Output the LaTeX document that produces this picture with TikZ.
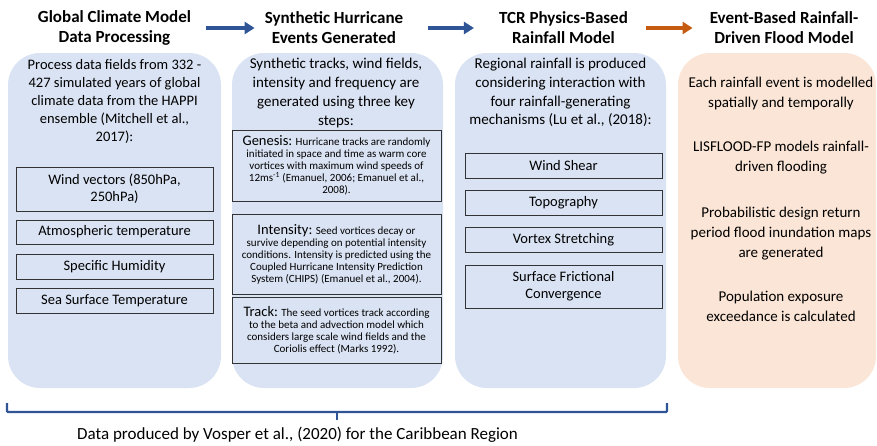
\documentclass[tikz,border=0pt]{standalone}
\usepackage{fontspec}
\setmainfont{Carlito}
\usepackage{xcolor}
\usetikzlibrary{arrows.meta}

\definecolor{panelblue}{HTML}{DAE3F3}
\definecolor{panelpeach}{HTML}{FBE5D6}
\definecolor{flowblue}{HTML}{2F5597}
\definecolor{floworange}{HTML}{C55A11}

\tikzset{
    panel/.style={rounded corners=32pt, inner sep=0pt, minimum height=335pt},
    heading/.style={font=\fontsize{17}{20}\selectfont\bfseries, align=center, inner sep=0pt},
    body/.style={font=\fontsize{15}{18.7}\selectfont, align=center, inner sep=0pt},
    varbox/.style={draw=black!80, line width=0.8pt, align=center, inner sep=0pt,
        minimum width=197pt, font=\fontsize{14.5}{17}\selectfont},
    stepbox/.style={draw=black!80, line width=0.8pt, align=center, inner sep=0pt,
        minimum width=209pt, font=\fontsize{11}{12}\selectfont},
    flow/.style={line width=3.5pt, -{Triangle[length=10pt,width=12pt]}},
}
\newcommand{\stepname}[1]{{\fontsize{14.5}{12}\selectfont #1}}

\begin{document}
\begin{tikzpicture}[x=1pt,y=-1pt]
    \useasboundingbox (0,0) rectangle (877,445);

    \node[heading] (gcm) at (114.5,28) {Global Climate Model\\Data Processing};
    \node[heading] (syn) at (334,28) {Synthetic Hurricane\\Events Generated};
    \node[heading] (tcr) at (563.5,28) {TCR Physics-Based\\Rainfall Model};
    \node[heading] (flood) at (784,28) {Event-Based Rainfall-\\Driven Flood Model};

    \draw[flow, flowblue, shorten <=15pt, shorten >=10pt] (gcm) -- (syn);
    \draw[flow, flowblue, shorten <=25pt, shorten >=25pt] (syn) -- (tcr);
    \draw[flow, floworange, shorten <=18pt, shorten >=17pt] (tcr) -- (flood);

    \node[panel, fill=panelblue, minimum width=213pt] (gcmpanel) at (114.5,220.5) {};
    \node[panel, fill=panelblue, minimum width=211pt] (synpanel) at (337.5,220.5) {};
    \node[panel, fill=panelblue, minimum width=211pt] (tcrpanel) at (560.5,220.5) {};
    \node[panel, fill=panelpeach, minimum width=198pt] (floodpanel) at (777,220.5) {};

    % climate model fields
    \node[body, font=\fontsize{14.5}{18}\selectfont] (gcmtext) at (114.5,101) {Process data fields from 332 -\\427 simulated years of global\\climate data from the HAPPI\\ensemble (Mitchell et al.,\\2017):};
    \node[varbox, minimum height=44pt] (wind) at (114.5,189) {Wind vectors (850hPa,\\250hPa)};
    \node[varbox, minimum height=24pt] (temp) at (114.5,232) {Atmospheric temperature};
    \node[varbox, minimum height=25pt] (hum) at (114.5,266.5) {Specific Humidity};
    \node[varbox, minimum height=25pt] (sst) at (114.5,300.5) {Sea Surface Temperature};

    % hurricane steps
    \node[body] (syntext) at (336,93) {Synthetic tracks, wind fields,\\intensity and frequency are\\generated using three key\\steps:};
    \node[stepbox, minimum height=71pt] (genesis) at (336.5,165.5) {\stepname{Genesis:} Hurricane tracks are randomly\\initiated in space and time as warm core\\vortices with maximum wind speeds of\\12ms\textsuperscript{-1} (Emanuel, 2006; Emanuel et al.,\\2008).};
    \node[stepbox, minimum height=80pt] (intensity) at (336.5,254) {\stepname{Intensity:} Seed vortices decay or\\survive depending on potential intensity\\conditions. Intensity is predicted using the\\Coupled Hurricane Intensity Prediction\\System (CHIPS) (Emanuel et al., 2004).};
    \node[stepbox, minimum height=66pt] (track) at (336.5,330) {\stepname{Track:} The seed vortices track according\\to the beta and advection model which\\considers large scale wind fields and the\\Coriolis effect (Marks 1992).};

    % rainfall mechanisms
    \node[body] (tcrtext) at (560.5,92.5) {Regional rainfall is produced\\considering interaction with\\four rainfall-generating\\mechanisms (Lu et al., (2018):};
    \node[varbox, minimum height=25pt] (shear) at (563.5,165.5) {Wind Shear};
    \node[varbox, minimum height=25pt] (topo) at (563.5,202.5) {Topography};
    \node[varbox, minimum height=25pt] (vortex) at (563.5,239.5) {Vortex Stretching};
    \node[varbox, minimum height=43pt] (friction) at (563.5,286.5) {Surface Frictional\\Convergence};

    % flood model
    \node[body, font=\fontsize{15}{20}\selectfont] (event) at (781,93) {Each rainfall event is modelled\\spatially and temporally};
    \node[body, font=\fontsize{15}{20}\selectfont] (lisflood) at (781,158) {LISFLOOD-FP models rainfall-\\driven flooding};
    \node[body, font=\fontsize{15}{20}\selectfont] (maps) at (781,234) {Probabilistic design return\\period flood inundation maps\\are generated};
    \node[body, font=\fontsize{15}{20}\selectfont] (exposure) at (781,306) {Population exposure\\exceedance is calculated};

    % data source bracket
    \draw[flowblue, line width=2.2pt, rounded corners=1pt] (7,403) -- (7,412) -- (667,412) -- (667,403);
    \draw[flowblue, line width=2.2pt] (337,412) -- (337,420);
    \node[font=\fontsize{17}{20}\selectfont, inner sep=0pt] (source) at (297.5,435) {Data produced by Vosper et al., (2020) for the Caribbean Region};
\end{tikzpicture}
\end{document}
